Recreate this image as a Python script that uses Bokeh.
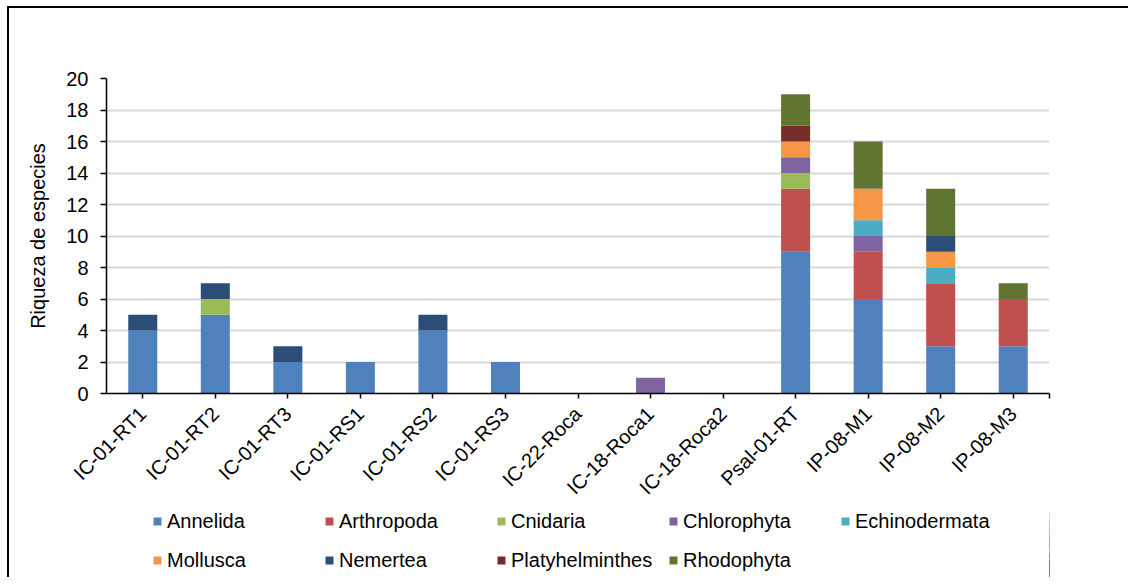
import math
import numpy as np
from bokeh.plotting import figure
from bokeh.layouts import column
from bokeh.models import Range1d, FixedTicker, Legend, LegendItem, ColumnDataSource
from bokeh.embed import file_html
from bokeh.resources import INLINE

categories = ["IC-01-RT1", "IC-01-RT2", "IC-01-RT3", "IC-01-RS1", "IC-01-RS2", "IC-01-RS3",
              "IC-22-Roca", "IC-18-Roca1", "IC-18-Roca2", "Psal-01-RT", "IP-08-M1", "IP-08-M2", "IP-08-M3"]
species = ["Annelida", "Arthropoda", "Cnidaria", "Chlorophyta", "Echinodermata",
           "Mollusca", "Nemertea", "Platyhelminthes", "Rhodophyta"]
annelida        = [4, 5, 2, 2, 4, 2, 0, 0, 0, 9, 6, 3, 3]
arthropoda      = [0, 0, 0, 0, 0, 0, 0, 0, 0, 4, 3, 4, 3]
cnidaria        = [0, 1, 0, 0, 0, 0, 0, 0, 0, 1, 0, 0, 0]
chlorophyta     = [0, 0, 0, 0, 0, 0, 0, 1, 0, 1, 1, 0, 0]
echinodermata   = [0, 0, 0, 0, 0, 0, 0, 0, 0, 0, 1, 1, 0]
mollusca        = [0, 0, 0, 0, 0, 0, 0, 0, 0, 1, 2, 1, 0]
nemertea        = [1, 1, 1, 0, 1, 0, 0, 0, 0, 0, 0, 1, 0]
platyhelminthes = [0, 0, 0, 0, 0, 0, 0, 0, 0, 1, 0, 0, 0]
rhodophyta      = [0, 0, 0, 0, 0, 0, 0, 0, 0, 2, 3, 3, 1]
colors = ["#4F81BD", "#C0504D", "#9BBB59", "#8064A2", "#4BACC6",
          "#F79646", "#2C4D75", "#772C2A", "#5F7530"]
y_ticks = list(range(0, 21, 2))

FONT = "Liberation Sans"
n = len(categories)
xpos = [i + 0.5 for i in range(n)]
data = {"x": xpos}
for name, vals in zip(species, [annelida, arthropoda, cnidaria, chlorophyta, echinodermata,
                                mollusca, nemertea, platyhelminthes, rhodophyta]):
    data[name] = vals
source = ColumnDataSource(data)

# ---- main chart ----
p = figure(frame_width=943, frame_height=315, output_backend="svg", toolbar_location=None,
           x_range=Range1d(0, n), y_range=Range1d(0, 20),
           min_border_left=97, min_border_top=70, min_border_right=79, min_border_bottom=108)
p.outline_line_color = None

renderers = p.vbar_stack(species, x="x", width=0.4, source=source, color=colors, line_color=None)

p.xaxis.ticker = FixedTicker(ticks=xpos + [n])
overrides = {x: c for x, c in zip(xpos, categories)}
overrides[n] = ""
p.xaxis.major_label_overrides = overrides
p.xaxis.major_label_orientation = math.pi / 4
p.xaxis.major_label_text_font = FONT
p.xaxis.major_label_text_font_size = "20px"
p.xaxis.major_label_text_color = "black"
p.xaxis.major_tick_out = 5
p.xaxis.major_tick_in = 0
p.xaxis.minor_tick_line_color = None
p.xaxis.axis_line_width = 1.5
p.xaxis.major_tick_line_width = 1.5
p.xaxis.major_label_standoff = 12

p.yaxis.ticker = FixedTicker(ticks=y_ticks)
p.yaxis.major_label_text_font = FONT
p.yaxis.major_label_text_font_size = "20px"
p.yaxis.major_label_text_color = "black"
p.yaxis.major_tick_out = 6
p.yaxis.major_tick_in = 0
p.yaxis.minor_tick_line_color = None
p.yaxis.axis_line_width = 1.5
p.yaxis.major_tick_line_width = 1.5
p.yaxis.major_label_standoff = 12
p.yaxis.axis_label = "Riqueza de especies"
p.yaxis.axis_label_text_font = FONT
p.yaxis.axis_label_text_font_size = "20px"
p.yaxis.axis_label_text_font_style = "normal"
p.yaxis.axis_label_text_color = "black"
p.yaxis.axis_label_standoff = 14

p.xgrid.grid_line_color = None
p.ygrid.ticker = FixedTicker(ticks=y_ticks)
p.ygrid.grid_line_color = "#D9D9D9"
p.ygrid.grid_line_width = 2

# ---- legend strip (same data, renderers kept outside the visible range) ----
p2 = figure(frame_width=943, height=68, output_backend="svg", toolbar_location=None,
            x_range=Range1d(-3, -2), y_range=Range1d(0, 20),
            x_axis_location=None, y_axis_location=None,
            min_border_left=97, min_border_right=79, min_border_top=0, min_border_bottom=0)
p2.outline_line_color = None
p2.grid.visible = False
leg_renderers = p2.vbar_stack(species, x="x", width=0.4, source=source, color=colors, line_color=None)

items = [LegendItem(label=s, renderers=[r]) for s, r in zip(species, leg_renderers)]
legend = Legend(items=items, orientation="horizontal", ncols=5, location=(46, 5),
                glyph_width=10, glyph_height=10, label_standoff=5, label_width=142,
                label_height=24, spacing=15, padding=0, margin=0,
                label_text_font=FONT, label_text_font_size="20px", label_text_color="black",
                border_line_color=None, background_fill_alpha=0)
p2.add_layout(legend, "center")

layout = column(p, p2, spacing=0)
layout.styles = {"border-top": "2px solid black", "border-left": "2px solid black",
                 "margin-top": "6px", "margin-left": "7px"}

open("out.html", "w").write(file_html(layout, INLINE))
